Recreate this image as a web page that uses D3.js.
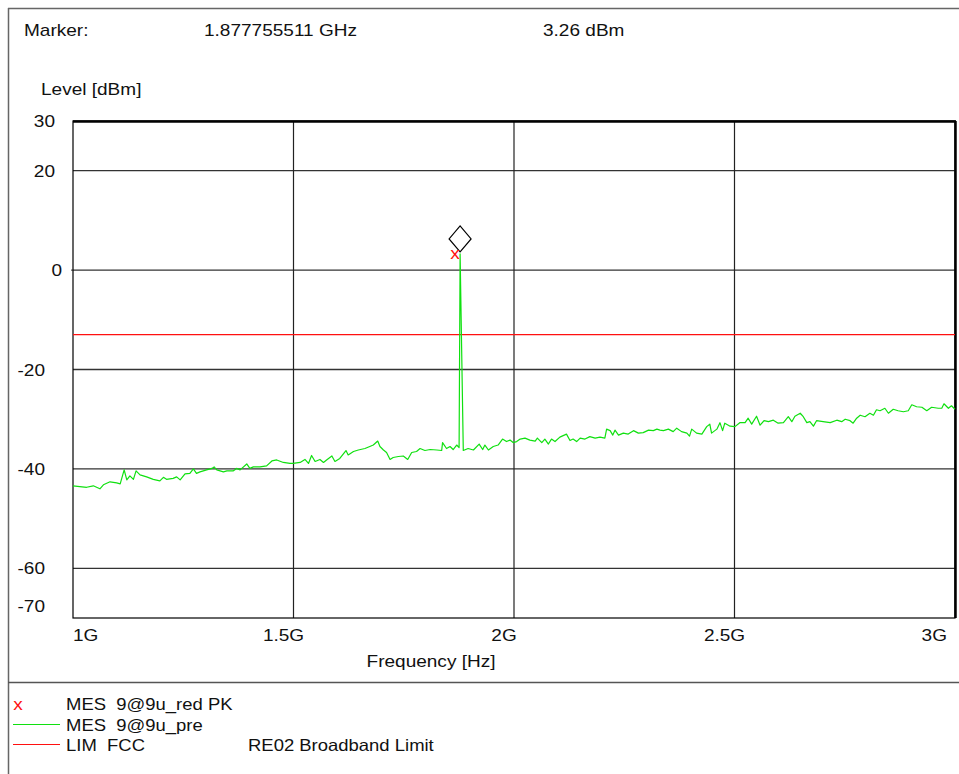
<!DOCTYPE html>
<html><head><meta charset="utf-8">
<script src="https://cdn.jsdelivr.net/npm/d3@7"></script>
<style>
html,body{margin:0;padding:0;background:#fff;}
svg text{font-family:"Liberation Sans",Arial,sans-serif;fill:#111;white-space:pre;}
</style></head>
<body><svg id="c" width="959" height="774"></svg>
<script>
// ---- data ----
const markerFreqText = "1.877755511 GHz";
const markerLevelText = "3.26 dBm";
const markerFreqGHz = 1.877755511;
const markerLevel = 3.26;
const limitLevel = -13;
const yTicks = [30, 20, 0, -20, -40, -60, -70];
const xTickValsGHz = [1, 1.5, 2, 2.5, 3];
const xTickLabels = ["1G", "1.5G", "2G", "2.5G", "3G"];
const freqGHz = [1.000,1.031,1.046,1.061,1.069,1.084,1.099,1.107,1.116,1.122,1.129,1.137,1.143,1.152,1.167,1.182,1.197,1.205,1.212,1.227,1.235,1.243,1.254,1.265,1.273,1.280,1.288,1.303,1.315,1.320,1.326,1.341,1.349,1.363,1.371,1.379,1.394,1.401,1.409,1.424,1.439,1.451,1.462,1.477,1.492,1.499,1.515,1.526,1.534,1.541,1.549,1.560,1.568,1.575,1.587,1.594,1.605,1.619,1.624,1.636,1.647,
1.662,1.673,1.681,1.691,1.696,1.704,1.711,1.719,1.726,1.738,1.749,1.759,1.768,1.779,1.787,1.798,1.810,1.825,1.836,1.838,1.847,1.855,1.862,1.870,1.8755,1.8778,1.8850,1.896,1.908,1.921,1.929,1.934,1.942,1.953,1.964,1.974,1.983,1.991,1.998,2.006,2.014,2.025,2.036,2.048,2.053,2.063,2.070,2.078,2.085,2.093,2.104,2.119,2.127,2.134,2.142,2.150,2.161,2.172,2.184,2.195,2.206,2.210,2.218,2.224,2.229,2.237,2.248,2.259,2.271,2.282,2.293,2.305,2.316,2.324,
2.331,2.339,2.350,2.361,2.369,2.380,2.392,2.398,2.403,2.414,2.426,2.437,2.444,2.448,2.460,2.467,2.473,2.478,2.490,2.501,2.512,2.524,2.531,2.539,2.550,2.558,2.567,2.577,2.588,2.599,2.611,2.622,2.630,2.637,2.649,2.656,2.664,2.671,2.679,2.686,2.701,2.717,2.732,2.743,2.751,2.762,2.769,2.777,2.785,2.796,2.807,2.815,2.822,2.830,2.841,2.849,2.860,2.871,2.883,2.894,2.902,2.913,2.925,2.936,2.947,2.962,2.970,2.975,2.985,2.992,3.000];
const levelDbm = [-43.4,-43.7,-43.4,-44.0,-43.2,-42.6,-42.8,-43.0,-40.2,-42.2,-41.4,-42.1,-40.4,-41.2,-41.6,-42.1,-42.4,-41.7,-42.1,-41.9,-41.6,-42.2,-41.0,-40.9,-40.0,-40.9,-40.6,-40.2,-39.9,-39.6,-40.2,-40.6,-40.4,-40.4,-39.9,-40.2,-39.0,-39.9,-39.6,-39.6,-39.4,-38.4,-38.2,-38.7,-38.9,-38.9,-38.7,-38.1,-38.9,-37.3,-38.5,-38.1,-38.7,-38.2,-37.4,-38.5,-37.9,-36.3,-37.2,-36.5,-36.2,
-35.9,-35.5,-35.2,-34.4,-35.5,-36.2,-36.7,-38.1,-37.7,-37.5,-37.4,-38.1,-36.7,-36.5,-35.9,-36.3,-36.1,-36.2,-36.3,-34.7,-35.9,-35.5,-36.1,-35.2,-35.7,3.26,-36.3,-35.9,-36.2,-35.0,-36.1,-35.2,-36.2,-35.5,-35.2,-34.0,-34.5,-34.2,-34.7,-34.5,-34.0,-33.8,-34.2,-34.4,-33.8,-34.7,-34.0,-35.0,-34.0,-34.5,-33.6,-33.0,-34.3,-34.0,-34.5,-33.8,-34.0,-33.5,-33.8,-33.6,-33.8,-32.0,-32.3,-33.2,-32.2,-33.2,-32.8,-33.0,-32.3,-32.8,-32.7,-32.2,-32.3,-32.0,
-32.2,-32.3,-32.0,-32.5,-31.8,-32.5,-32.8,-33.4,-32.0,-32.8,-33.0,-31.5,-31.0,-32.8,-32.0,-30.7,-32.3,-30.8,-31.4,-31.5,-30.7,-30.7,-29.8,-31.0,-29.4,-31.2,-30.3,-30.5,-30.2,-30.8,-30.7,-29.5,-30.5,-29.4,-28.8,-29.5,-30.7,-30.5,-31.4,-30.3,-30.5,-30.7,-30.2,-30.5,-30.0,-30.3,-30.8,-29.8,-29.2,-29.5,-28.8,-29.2,-28.1,-28.3,-27.8,-28.8,-28.0,-28.3,-28.5,-28.3,-27.1,-27.5,-27.6,-28.3,-27.6,-27.8,-27.8,-26.9,-27.8,-27.3,-28.0];
const legendNames = ["MES  9@9u_red PK", "MES  9@9u_pre", "LIM  FCC"];
const legendExtra = ["", "", "RE02 Broadband Limit"];

// ---- layout ----
const svg = d3.select("#c");
const SX = 1.12, FS = 17;
const L = 73, R = 955, T = 121, B = 618;
const x = d3.scaleLinear().domain([1e9, 3e9]).range([L, R]);
const y = d3.scaleLinear().domain([-70, 30]).range([B, T]);
const GREEN = "#10e010", RED = "#ff1010";

function txt(px, py, s, anchor, color, fs) {
  return svg.append("text")
    .attr("transform", `translate(${px},${py}) scale(${SX},1)`)
    .attr("text-anchor", anchor || "start")
    .attr("font-size", (fs || FS) + "px")
    .attr("xml:space", "preserve")
    .style("fill", color || "#111")
    .text(s);
}

// outer frame
svg.append("line").attr("x1", 8).attr("x2", 959).attr("y1", 8.5).attr("y2", 8.5).attr("stroke", "#666").attr("stroke-width", 1.5);
svg.append("line").attr("x1", 8.5).attr("x2", 8.5).attr("y1", 8).attr("y2", 774).attr("stroke", "#666").attr("stroke-width", 1.5);
svg.append("line").attr("x1", 8).attr("x2", 959).attr("y1", 682.5).attr("y2", 682.5).attr("stroke", "#555").attr("stroke-width", 1.5);

// header
txt(24, 36, "Marker:");
txt(204, 36, markerFreqText);
txt(543, 36, markerLevelText);
txt(41, 95, "Level [dBm]");

// gridlines
const gridY = yTicks.filter(v => v !== 30 && v !== -70);
svg.append("g").selectAll("line").data(gridY).join("line")
  .attr("x1", L).attr("x2", R).attr("y1", d => y(d)).attr("y2", d => y(d))
  .attr("stroke", "#333").attr("stroke-width", 1.3);
const gridX = xTickValsGHz.slice(1, -1);
svg.append("g").selectAll("line").data(gridX).join("line")
  .attr("x1", d => x(d * 1e9)).attr("x2", d => x(d * 1e9)).attr("y1", T).attr("y2", B)
  .attr("stroke", "#222").attr("stroke-width", 1.2);
// small tick at 0
svg.append("line").attr("x1", L - 2).attr("x2", L).attr("y1", y(0)).attr("y2", y(0)).attr("stroke", "#333");

// frame
svg.append("rect").attr("x", L).attr("y", T).attr("width", R - L).attr("height", B - T)
  .attr("fill", "none").attr("stroke", "#000").attr("stroke-width", 1.2);
svg.append("line").attr("x1", L).attr("x2", R + 1).attr("y1", T + 0.5).attr("y2", T + 0.5).attr("stroke", "#000").attr("stroke-width", 2.5);
svg.append("line").attr("x1", R + 0.5).attr("x2", R + 0.5).attr("y1", T).attr("y2", B).attr("stroke", "#000").attr("stroke-width", 2.5);

// y tick labels
yTicks.forEach(v => {
  const xe = v < 0 ? 45 : (v === 0 ? 62 : 55);
  const yy = v === -70 ? y(v) - 12 : y(v);
  txt(xe, yy + 6, String(v), "end");
});
// x tick labels
xTickValsGHz.forEach((v, i) => {
  const n = xTickValsGHz.length;
  if (i === 0) txt(x(v * 1e9), 641, xTickLabels[i], "start");
  else if (i === n - 1) txt(x(v * 1e9) - 8, 641, xTickLabels[i], "end");
  else txt(x(v * 1e9) - 10, 641, xTickLabels[i], "middle");
});
txt(431, 667, "Frequency [Hz]", "middle");

// limit line
svg.append("line").attr("x1", L).attr("x2", R).attr("y1", y(limitLevel)).attr("y2", y(limitLevel))
  .attr("stroke", RED).attr("stroke-width", 1.3);

// trace
const pts = freqGHz.map((f, i) => [f * 1e9, levelDbm[i]]);
svg.append("path").datum(pts)
  .attr("d", d3.line().x(d => x(d[0])).y(d => y(d[1])))
  .attr("fill", "none").attr("stroke", GREEN).attr("stroke-width", 1.2).attr("stroke-linejoin", "round");

// marker
const mx = x(markerFreqGHz * 1e9), my = y(markerLevel);
svg.append("path")
  .attr("d", `M${mx},${my - 2} L${mx + 11},${my - 15} L${mx},${my - 28} L${mx - 11},${my - 15} Z`)
  .attr("fill", "#fff").attr("stroke", "#000").attr("stroke-width", 1.2);
txt(mx - 5, my + 5, "x", "middle", RED, 17);

// legend
txt(18, 710, "x", "middle", RED, 17);
svg.append("line").attr("x1", 13).attr("x2", 60).attr("y1", 724.5).attr("y2", 724.5).attr("stroke", GREEN).attr("stroke-width", 1.2);
svg.append("line").attr("x1", 13).attr("x2", 60).attr("y1", 744.5).attr("y2", 744.5).attr("stroke", RED).attr("stroke-width", 1.2);
const legY = [710, 731, 751];
legendNames.forEach((s, i) => {
  txt(66, legY[i], s, "start", "#111", 16.5);
  if (legendExtra[i]) txt(248, legY[i], legendExtra[i], "start", "#111", 16.5);
});
</script></body></html>
